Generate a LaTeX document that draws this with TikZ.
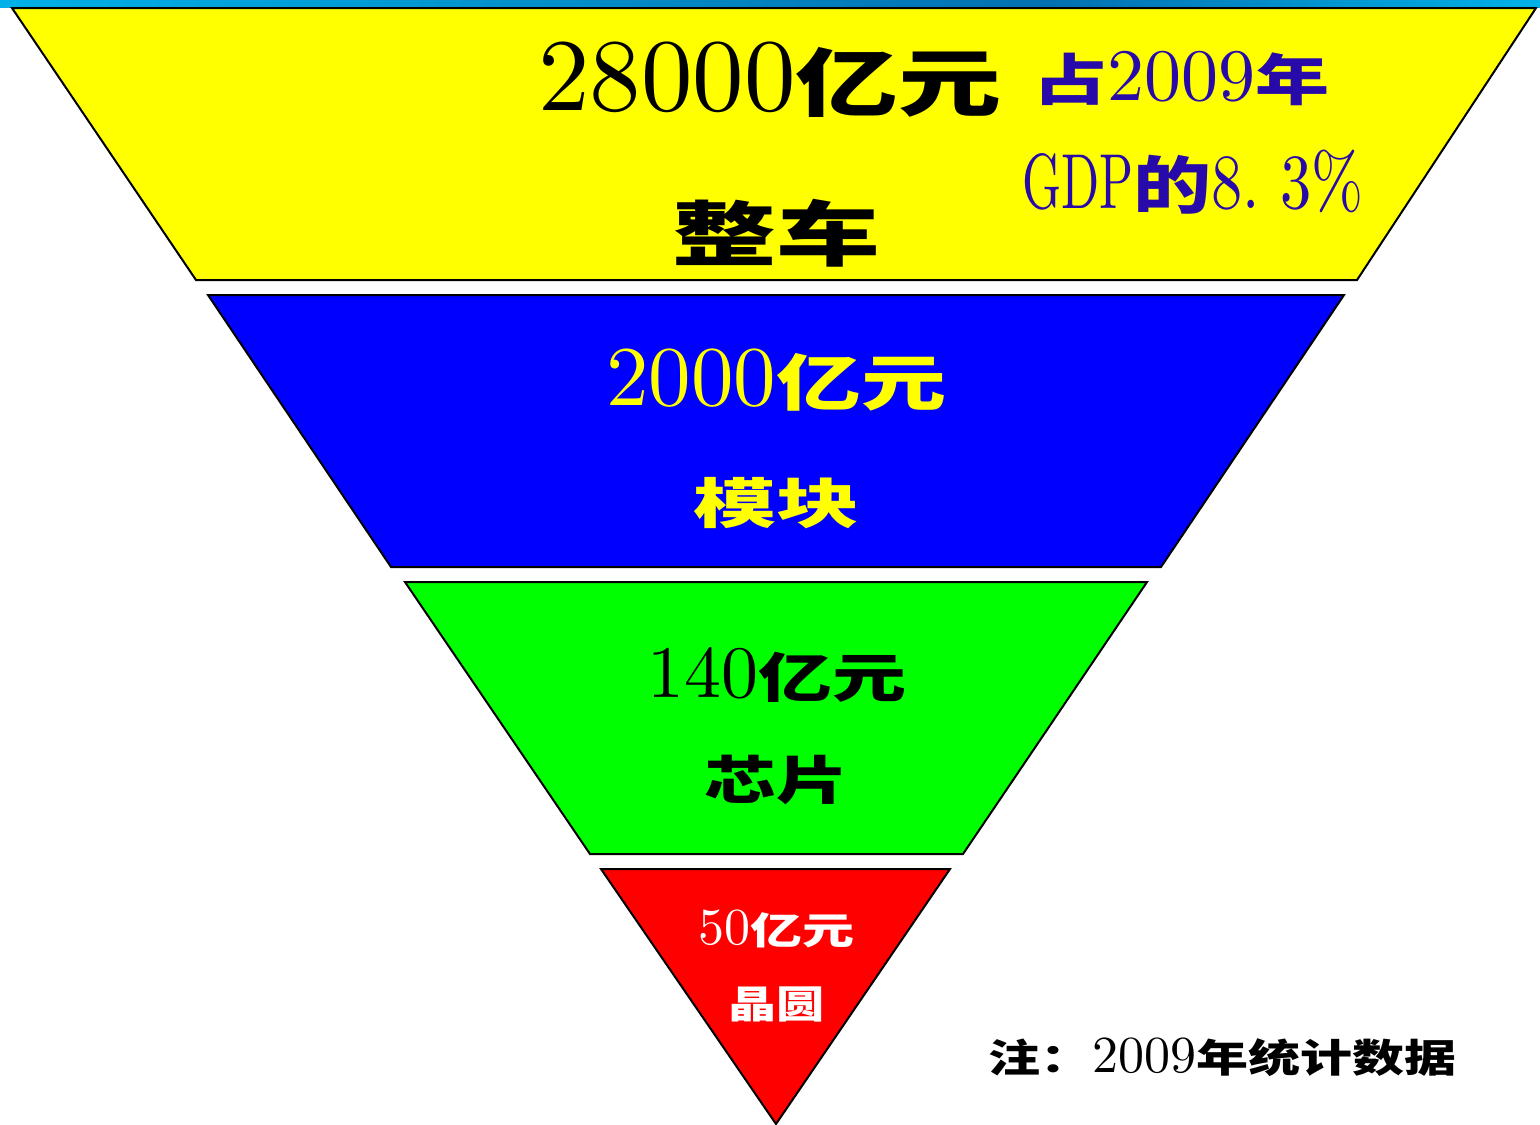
\documentclass[tikz,border=0pt]{standalone}
\usepackage{fontspec}
\usepackage{graphicx}
\setmainfont{lmroman10-regular}[Extension=.otf]
\newfontfamily\cjk{Noto Sans CJK SC}
\newcommand\myfs[1]{\fontsize{#1}{#1}\selectfont}
\newcommand\nar[2]{\scalebox{#1}[1]{#2}}
\newcommand\zh[2][0.72]{\scalebox{1}[#1]{\cjk\bfseries #2}}
\definecolor{bandcyan}{RGB}{0,176,232}
\definecolor{banddark}{RGB}{0,112,176}
\definecolor{txtblue}{RGB}{40,10,170}
\definecolor{pyel}{RGB}{255,255,0}
\definecolor{pblue}{RGB}{0,0,255}
\definecolor{pgreen}{RGB}{0,255,0}
\definecolor{pred}{RGB}{255,0,0}
\tikzset{
  layer/.style={draw=black,line width=1pt,line join=miter},
  lbl/.style={inner sep=0pt,outer sep=0pt}
}
\begin{document}
\begin{tikzpicture}[x=0.5pt,y=-0.5pt]
\useasboundingbox (0,0) rectangle (1540,1124);
% top band
\shade[left color=bandcyan,right color=banddark] (0,0) rectangle (1050,7.5);
\shade[left color=banddark,right color=bandcyan] (1050,0) rectangle (1540,7.5);
% layers
\path[layer,fill=pyel] (12,8) -- (1536,8) -- (1357,280) -- (196,280) -- cycle;
\path[layer,fill=pblue] (208,295) -- (1344,295) -- (1161,567) -- (391,567) -- cycle;
\path[layer,fill=pgreen] (405,582) -- (1147,582) -- (963,854) -- (590,854) -- cycle;
\path[layer,fill=pred] (601,869) -- (950,869) -- (776,1124) -- cycle;
% texts
\node[lbl,anchor=base west] (t1) at (538,110) {\myfs{51.5}28000\zh{亿元}};
\node[lbl,anchor=base west,text=txtblue] (t2) at (1033,100) {\myfs{37}\zh[0.75]{占}2009\zh[0.75]{年}};
\node[lbl,anchor=base west,text=txtblue] (t3) at (1022,208) {\myfs{39}\nar{0.64}{GDP}\zh[0.8]{的}\nar{0.8}{8.\ 3\%}};
\node[lbl] (t4) at (776,233) {\myfs{52}\zh[0.68]{整车}};
\node[lbl,anchor=base,text=pyel] (t5) at (776,405) {\myfs{42.5}2000\zh{亿元}};
\node[lbl,text=pyel] (t6) at (776,503) {\myfs{41.5}\zh[0.65]{模块}};
\node[lbl,anchor=base] (t7) at (777,697) {\myfs{37}140\zh{亿元}};
\node[lbl] (t8) at (776,780) {\myfs{36}\zh[0.72]{芯片}};
\node[lbl,anchor=base,text=white] (t9) at (776,944) {\myfs{26}50\zh{亿元}};
\node[lbl,text=white] (t10) at (776,1004) {\myfs{24}\zh[0.8]{晶圆}};
\node[lbl,anchor=base west] (t11) at (988,1072) {\myfs{26}\zh[0.75]{注：}2009\zh[0.75]{年统计数据}};
\end{tikzpicture}
\end{document}
